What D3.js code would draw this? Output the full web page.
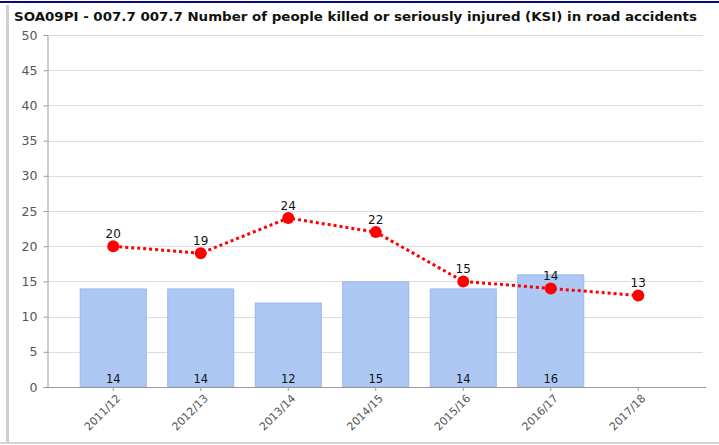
<!DOCTYPE html>
<html>
<head>
<meta charset="utf-8">
<script src="https://cdn.jsdelivr.net/npm/d3@7"></script>
<style>
  html, body { margin: 0; padding: 0; background: #fff; }
  svg { display: block; }
</style>
</head>
<body>
<svg id="chart" width="719" height="445"></svg>
<script>
// Financial years shown on the x axis
const years = ["2011/12", "2012/13", "2013/14", "2014/15", "2015/16", "2016/17", "2017/18"];
// Bar series (no value for the last year)
const barValues = [14, 14, 12, 15, 14, 16, null];
// Red dotted line series
const lineValues = [20, 19, 24, 22, 15, 14, 13];
// Y axis ticks
const yTicks = [0, 5, 10, 15, 20, 25, 30, 35, 40, 45, 50];
const titleText = "SOA09PI - 007.7 007.7 Number of people killed or seriously injured (KSI) in road accidents";

const svg = d3.select("#chart");
const W = 719, H = 445;
const plot = { left: 47.5, right: 706, top: 35, bottom: 387 };

// Frame: navy rule on top, grey rules on the left and bottom
svg.append("rect").attr("x", 0).attr("y", 1).attr("width", W).attr("height", 2).attr("fill", "#0a0a80");
svg.append("rect").attr("x", 6).attr("y", 5).attr("width", 3).attr("height", 438).attr("fill", "#cfcfcf");
svg.append("rect").attr("x", 0).attr("y", 442).attr("width", W).attr("height", 2).attr("fill", "#d4d4d4");

// Title
svg.append("text")
  .attr("x", 14).attr("y", 21)
  .attr("font-family", "DejaVu Sans, Verdana, sans-serif")
  .attr("font-weight", "bold")
  .attr("font-size", 12.5)
  .attr("fill", "#111")
  .attr("textLength", 683)
  .attr("lengthAdjust", "spacingAndGlyphs")
  .text(titleText);

const y = d3.scaleLinear().domain([0, 50]).range([plot.bottom, plot.top]);
const x = d3.scaleBand().domain(years).range([69.5, 682]).paddingInner(0.234).paddingOuter(0.117);

// Horizontal gridlines
svg.append("g").selectAll("line").data(yTicks.filter(d => d > 0)).join("line")
  .attr("x1", plot.left).attr("x2", 703)
  .attr("y1", d => Math.round(y(d)) + 0.5).attr("y2", d => Math.round(y(d)) + 0.5)
  .attr("stroke", "#dcdcdc").attr("stroke-width", 1);

// Y axis
const yAxis = svg.append("g")
  .attr("transform", `translate(${plot.left},0)`)
  .call(d3.axisLeft(y).tickValues(yTicks).tickSize(4).tickPadding(6));
yAxis.select(".domain").attr("stroke", "#999");
yAxis.selectAll(".tick line").attr("stroke", "#999");
yAxis.selectAll(".tick text")
  .attr("font-family", "DejaVu Sans, Verdana, sans-serif")
  .attr("font-size", 12.5).attr("fill", "#555");

// Bars
const barData = years.map((yr, i) => ({ yr, v: barValues[i] })).filter(d => d.v != null);
svg.append("g").selectAll("rect").data(barData).join("rect")
  .attr("x", d => x(d.yr) + 0.5)
  .attr("y", d => y(d.v) + 0.5)
  .attr("width", x.bandwidth() - 1)
  .attr("height", d => y(0) - y(d.v) - 0.5)
  .attr("fill", "#aec8f4")
  .attr("stroke", "#98b7ee").attr("stroke-width", 1);

// Bar value labels inside the base of each bar
svg.append("g").selectAll("text").data(barData).join("text")
  .attr("x", d => x(d.yr) + x.bandwidth() / 2)
  .attr("y", plot.bottom - 4)
  .attr("text-anchor", "middle")
  .attr("font-family", "DejaVu Sans, Verdana, sans-serif")
  .attr("font-size", 11.5).attr("fill", "#111")
  .text(d => d.v);

// X axis
const xAxis = svg.append("g")
  .attr("transform", `translate(0,${plot.bottom})`)
  .call(d3.axisBottom(x).tickSize(4).tickSizeOuter(0).tickFormat(() => ""));
xAxis.select(".domain").remove();
xAxis.selectAll(".tick line").attr("stroke", "#999");
svg.append("line")
  .attr("x1", plot.left).attr("x2", plot.right)
  .attr("y1", plot.bottom + 0.5).attr("y2", plot.bottom + 0.5)
  .attr("stroke", "#999");

// Rotated year labels
svg.append("g").selectAll("text").data(years).join("text")
  .attr("transform", d => `translate(${x(d) + x.bandwidth() / 2 + 8},${plot.bottom + 12}) rotate(-45)`)
  .attr("text-anchor", "end")
  .attr("font-family", "DejaVu Sans, Verdana, sans-serif")
  .attr("font-size", 11).attr("fill", "#555")
  .text(d => d);

// Dotted red line with markers
const cx = d => x(d) + x.bandwidth() / 2;
const pts = years.map((yr, i) => ({ yr, v: lineValues[i] }));
svg.append("path")
  .datum(pts)
  .attr("d", d3.line().x(d => cx(d.yr)).y(d => y(d.v)))
  .attr("fill", "none")
  .attr("stroke", "#ff0000")
  .attr("stroke-width", 3)
  .attr("stroke-dasharray", "3,3");
svg.append("g").selectAll("circle").data(pts).join("circle")
  .attr("cx", d => cx(d.yr)).attr("cy", d => y(d.v))
  .attr("r", 6).attr("fill", "#ff0000");
svg.append("g").selectAll("text").data(pts).join("text")
  .attr("x", d => cx(d.yr)).attr("y", d => y(d.v) - 8)
  .attr("text-anchor", "middle")
  .attr("font-family", "DejaVu Sans, Verdana, sans-serif")
  .attr("font-size", 12).attr("fill", "#111")
  .text(d => d.v);
</script>
</body>
</html>
